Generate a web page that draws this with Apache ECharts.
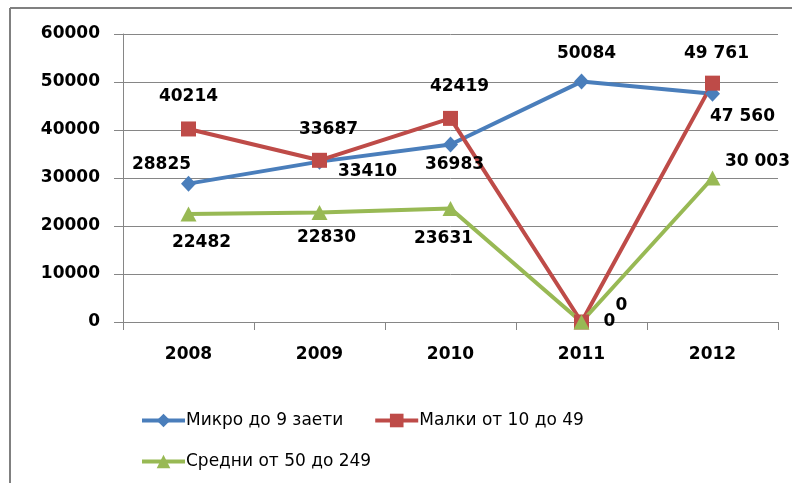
<!DOCTYPE html>
<html>
<head>
<meta charset="utf-8">
<script src="https://cdn.jsdelivr.net/npm/echarts@6/dist/echarts.min.js"></script>
<style>
  html, body { margin: 0; padding: 0; background: #fff; }
  #chart { width: 792px; height: 483px; }
</style>
</head>
<body>
<div id="chart"></div>
<script>
var years = ['2008', '2009', '2010', '2011', '2012'];

var micro = [28825, 33410, 36983, 50084, 47560];
var malki = [40214, 33687, 42419, 0, 49761];
var sredni = [22482, 22830, 23631, 0, 30003];

// label text as shown in the picture (some values use a space separator)
var microText = ['28825', '33410', '36983', '50084', '47 560'];
var malkiText = ['40214', '33687', '42419', '0', '49 761'];
var sredniText = ['22482', '22830', '23631', '0', '30 003'];

// label offsets from the point
var microOff = [[-27, -19], [48, 10], [4, 20], [5, -28], [30, 23]];
var malkiOff = [[0, -32], [9, -31], [9, -32], [40, -16], [4, -30]];
var sredniOff = [[13, 28], [7, 25], [-7, 30], [28, 0], [45, -16]];

var names = ['Микро до 9 заети', 'Малки от 10 до 49', 'Средни от 50 до 249'];

var chart = echarts.init(document.getElementById('chart'));

function points(vals, texts, offs) {
  return vals.map(function (v, i) {
    return {
      value: v,
      label: { offset: offs[i], formatter: texts[i] }
    };
  });
}

var labelStyle = {
  show: true,
  position: 'inside',
  color: '#000',
  fontFamily: 'DejaVu Sans',
  fontWeight: 'bold',
  fontSize: 17
};

var legendText = { fontFamily: 'DejaVu Sans', fontSize: 17, color: '#000', padding: [0, 0, 0, -4] };

var option = {
  animation: false,
  backgroundColor: '#fff',
  textStyle: { fontFamily: 'DejaVu Sans' },
  graphic: [
    { type: 'line', shape: { x1: 10, y1: 8, x2: 792, y2: 8 }, style: { stroke: '#808080', lineWidth: 2 } },
    { type: 'line', shape: { x1: 10, y1: 8, x2: 10, y2: 483 }, style: { stroke: '#808080', lineWidth: 2 } }
  ],
  legend: [
    {
      left: 135,
      top: 407,
      itemWidth: 43,
      itemHeight: 17,
      itemGap: 30,
      lineStyle: { width: 4 },
      data: [names[0], names[1]],
      textStyle: legendText
    },
    {
      left: 135,
      top: 448,
      itemWidth: 43,
      itemHeight: 17,
      lineStyle: { width: 4 },
      data: [names[2]],
      textStyle: legendText
    }
  ],
  grid: {
    left: 123,
    right: 14,
    top: 34,
    bottom: 161
  },
  xAxis: {
    type: 'category',
    data: years,
    boundaryGap: true,
    axisLine: { lineStyle: { color: '#868686', width: 1 } },
    axisTick: { show: true, length: 8, lineStyle: { color: '#868686' } },
    axisLabel: {
      color: '#000',
      fontFamily: 'DejaVu Sans',
      fontWeight: 'bold',
      fontSize: 17,
      margin: 24
    }
  },
  yAxis: {
    type: 'value',
    min: 0,
    max: 60000,
    interval: 10000,
    axisLine: { show: true, lineStyle: { color: '#868686', width: 1 } },
    axisTick: { show: true, length: 9, lineStyle: { color: '#868686' } },
    splitLine: { lineStyle: { color: '#868686', width: 1 } },
    axisLabel: {
      color: '#000',
      fontFamily: 'DejaVu Sans',
      fontWeight: 'bold',
      fontSize: 17,
      margin: 23,
      formatter: function (v) { return String(v); }
    }
  },
  series: [
    {
      name: names[0],
      type: 'line',
      symbol: 'diamond',
      symbolSize: [15, 16],
      color: '#4A7EBB',
      lineStyle: { width: 4, color: '#4A7EBB' },
      label: labelStyle,
      data: points(micro, microText, microOff)
    },
    {
      name: names[1],
      type: 'line',
      symbol: 'rect',
      symbolSize: 15,
      color: '#BE4B48',
      lineStyle: { width: 4, color: '#BE4B48' },
      label: labelStyle,
      data: points(malki, malkiText, malkiOff)
    },
    {
      name: names[2],
      type: 'line',
      symbol: 'triangle',
      symbolSize: [16, 15],
      color: '#98B954',
      lineStyle: { width: 4, color: '#98B954' },
      label: labelStyle,
      data: points(sredni, sredniText, sredniOff)
    }
  ]
};

chart.setOption(option);
</script>
</body>
</html>
